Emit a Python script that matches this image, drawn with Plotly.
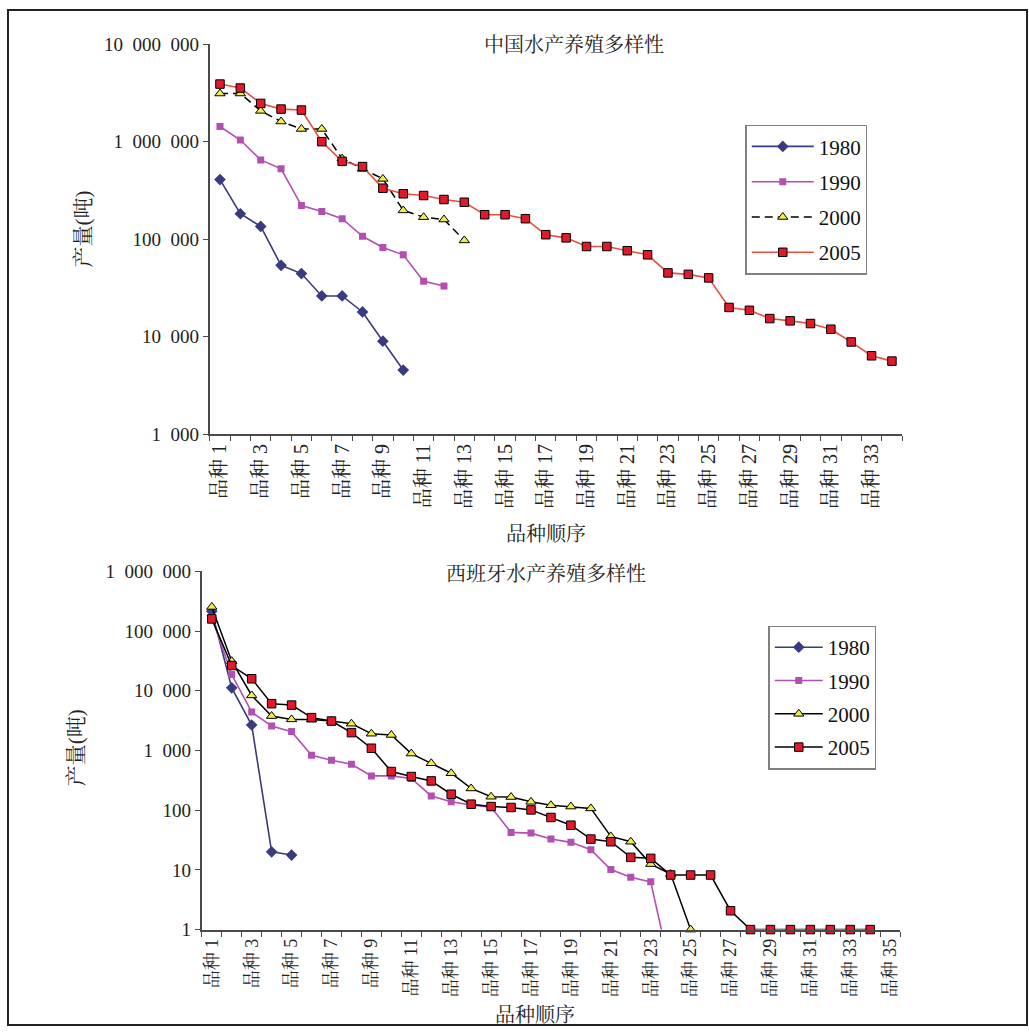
import plotly.graph_objects as go

# ---- data: production (tonnes) per species rank ----
years = ["1980", "1990", "2000", "2005"]

china_1980 = [408000, 182000, 135000, 53800, 44300, 26100, 26100, 17900, 8970, 4530]
china_1990 = [1430000, 1040000, 650000, 526000, 221000, 192000, 162000, 107000,
              82000, 69000, 37000, 33000]
china_2000 = [3120000, 3120000, 2070000, 1610000, 1350000, 1350000, 670000, 526000,
              415000, 197000, 168000, 159000, 97000]
china_2005 = [3900000, 3550000, 2470000, 2160000, 2110000, 1000000, 628000, 555000,
              333000, 292000, 280000, 255000, 239000, 178000, 178000, 162000, 111000,
              103000, 84000, 84000, 76000, 69000, 45000, 43500, 40000, 19900, 18600,
              15300, 14500, 13600, 11900, 8800, 6350, 5600]

spain_1980 = [215000, 11200, 2670, 20.1, 17.7]
spain_1990 = [170000, 18700, 4400, 2560, 2070, 832, 686, 588, 375, 375, 340, 173, 138,
              122, 112, 42.4, 41.3, 32.8, 28.9, 21.7, 10.1, 7.5, 6.3, 0.2]
spain_2000 = [254000, 31300, 8360, 3770, 3320, 3300, 3110, 2810, 1910, 1820, 888, 611,
              416, 231, 168, 166, 138, 121, 115, 107, 36.4, 29.6, 12.5, 8.5, 1]
spain_2005 = [160000, 26500, 15900, 6080, 5760, 3550, 3110, 1990, 1090, 444, 366, 309,
              185, 126, 115, 111, 101, 75.5, 56, 32.8, 29.6, 16.2, 15.6, 8.2, 8.2, 8.2,
              2.07, 1, 1, 1, 1, 1, 1, 1]

china_categories = 34
spain_categories = 35

china_ticks = [1000, 10000, 100000, 1000000, 10000000]
china_tick_text = ["1\u2002000", "10\u2002000", "100\u2002000", "1\u2002000\u2002000", "10\u2002000\u2002000"]
spain_ticks = [1, 10, 100, 1000, 10000, 100000, 1000000]
spain_tick_text = ["1", "10", "100", "1\u2002000", "10\u2002000", "100\u2002000", "1\u2002000\u2002000"]

title_cn = "中国水产养殖多样性"
title_es = "西班牙水产养殖多样性"
y_title = "产量(吨)"
x_title = "品种顺序"

FONT = "Liberation Serif, Noto Serif CJK SC, Noto Sans CJK SC, serif"
AXIS = "#4a4a4a"
NAVY = "#3a3a7e"
MAGENTA = "#b24fb2"
YELLOW = "#eeee44"
RED = "#e01a2a"
RED_LINE = "#e8503f"

W, H = 1029, 1036


def px(x):
    return x / W


def py(y):
    # vertical page position -> paper fraction
    y = (y - 9) / 0.982
    return min(1.0, max(0.0, 1 - y / H))


fig = go.Figure()


def add_series(values, name, xa, ya, legend, line, marker, clip=True):
    fig.add_trace(go.Scatter(
        x=list(range(1, len(values) + 1)), y=values, name=name,
        xaxis=xa, yaxis=ya, legend=legend, legendgroup=legend + name,
        mode="lines+markers", line=line, marker=marker, cliponaxis=clip,
    ))


# China
add_series(china_1980, years[0], "x", "y", "legend",
           dict(color=NAVY, width=1.6), dict(symbol="diamond", size=9, color=NAVY))
add_series(china_1990, years[1], "x", "y", "legend",
           dict(color=MAGENTA, width=1.6), dict(symbol="square", size=7, color=MAGENTA))
add_series(china_2000, years[2], "x", "y", "legend",
           dict(color="black", width=1.5, dash="8px,5px"),
           dict(symbol="triangle-up", size=9, color=YELLOW, line=dict(color="black", width=1)))
add_series(china_2005, years[3], "x", "y", "legend",
           dict(color=RED_LINE, width=1.6),
           dict(symbol="square", size=8.5, color=RED, line=dict(color="black", width=1)))

# Spain
add_series(spain_1980, years[0], "x2", "y2", "legend2",
           dict(color=NAVY, width=1.6), dict(symbol="diamond", size=9, color=NAVY), clip=False)
add_series(spain_1990, years[1], "x2", "y2", "legend2",
           dict(color=MAGENTA, width=1.6), dict(symbol="square", size=7, color=MAGENTA), clip=True)
add_series(spain_2000, years[2], "x2", "y2", "legend2",
           dict(color="black", width=1.5),
           dict(symbol="triangle-up", size=9, color=YELLOW, line=dict(color="black", width=1)), clip=False)
add_series(spain_2005, years[3], "x2", "y2", "legend2",
           dict(color="black", width=1.5),
           dict(symbol="square", size=8.5, color=RED, line=dict(color="black", width=1)), clip=False)


def x_axis(n, domain, anchor, size):
    odd = list(range(1, n + 1, 2))
    return dict(
        domain=domain, anchor=anchor, range=[0.5, n + 0.5],
        tickmode="array", tickvals=odd, ticktext=[f"品种 {i}" for i in odd],
        tickangle=-90, ticks="", showgrid=False, zeroline=False,
        showline=True, linecolor=AXIS, linewidth=2,
        tickfont=dict(family=FONT, size=size, color="#222"),
        minor=dict(tickmode="array", tickvals=[i + 0.5 for i in range(0, n + 1)],
                   ticks="outside", ticklen=5, tickcolor=AXIS, tickwidth=1, showgrid=False),
    )


def y_axis(rng, ticks, text, domain, anchor):
    return dict(
        type="log", range=rng, domain=domain, anchor=anchor,
        tickmode="array", tickvals=ticks, ticktext=text,
        ticks="outside", ticklen=5, tickcolor=AXIS, tickwidth=1,
        showgrid=False, zeroline=False, showline=True, linecolor=AXIS, linewidth=2,
        tickfont=dict(family=FONT, size=19, color="#222"),
    )


legend_style = dict(
    font=dict(family=FONT, size=21, color="#111"),
    bgcolor="white", bordercolor="#808080", borderwidth=1.5,
    xanchor="left", yanchor="top", traceorder="grouped",
)

fig.update_layout(
    width=W, height=H, margin=dict(l=0, r=0, t=0, b=0),
    paper_bgcolor="white", plot_bgcolor="white",
    showlegend=True,
    xaxis=x_axis(china_categories, [px(209), px(902)], "y", 20),
    yaxis=y_axis([3, 7], china_ticks, china_tick_text, [py(434), py(43.3)], "x"),
    xaxis2=x_axis(spain_categories, [px(201), px(900)], "y2", 18),
    yaxis2=y_axis([0, 6], spain_ticks, spain_tick_text, [py(930.7), py(571.7)], "x2"),
    legend=dict(x=px(745), y=py(124), itemwidth=62, tracegroupgap=5, **legend_style),
    legend2=dict(x=px(768), y=py(626), itemwidth=48, tracegroupgap=3, **legend_style),
)

ann_font = dict(family=FONT, size=20, color="#222")


def label(text, x, y, angle=0, size=20):
    return dict(text=text, x=px(x), y=py(y), xref="paper", yref="paper", showarrow=False,
                xanchor="center", yanchor="middle", textangle=angle,
                font=dict(ann_font, size=size))


fig.update_layout(annotations=[
    label(title_cn, 574, 44),
    label(title_es, 546, 574),
    label(y_title, 83, 228, -90, 21),
    label(y_title, 75, 748, -90, 21),
    label(x_title, 546, 534),
    label(x_title, 535, 1016),
])

# outer frame
fig.add_shape(type="rect", xref="paper", yref="paper",
              x0=px(7), x1=px(1027), y0=py(1034), y1=py(8),
              line=dict(color="#222", width=2), fillcolor="rgba(0,0,0,0)")

fig.write_html("out.html")
